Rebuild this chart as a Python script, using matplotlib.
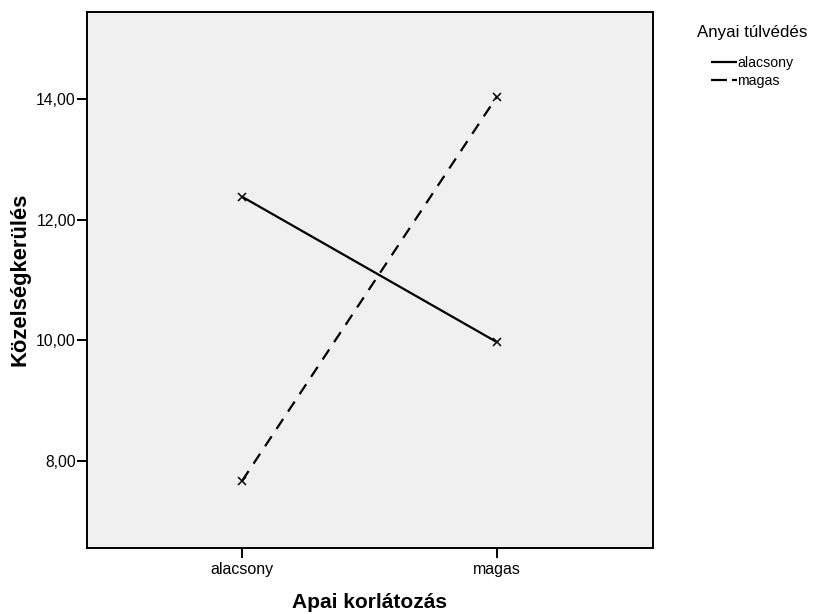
import matplotlib
matplotlib.use("Agg")
import matplotlib.pyplot as plt
from matplotlib.lines import Line2D

plt.rcParams['font.family'] = ['Liberation Sans', 'DejaVu Sans']
plt.rcParams['lines.scale_dashes'] = False

# Data
apai_levels = ["alacsony", "magas"]           # x categories (Apai korlátozás)
anyai_levels = ["alacsony", "magas"]          # series (Anyai túlvédés)
mean_alacsony = [12.38, 9.97]                 # Anyai túlvédés = alacsony
mean_magas = [7.67, 14.04]                    # Anyai túlvédés = magas
y_ticks = [8.0, 10.0, 12.0, 14.0]
y_ticklabels = ["8,00", "10,00", "12,00", "14,00"]

W, H = 819, 614
fig = plt.figure(figsize=(W / 100, H / 100), dpi=100)
ax = fig.add_axes([87 / W, 66 / H, (653 - 87) / W, (548 - 12) / H])
ax.set_facecolor("#f0f0f0")

x = list(range(len(apai_levels)))
dash_style = (0, (8.6, 6.4))
ax.plot(x, mean_alacsony, color="black", lw=1.6, marker="x", ms=6,
        mew=1.1, solid_capstyle="butt")
ax.plot(x, mean_magas, color="black", lw=1.6, marker="x", ms=6,
        mew=1.1, linestyle=dash_style, dash_capstyle="butt")

ax.set_xlim(-0.608, 1.612)
ax.set_ylim(6.56, 15.44)
ax.set_xticks(x)
ax.set_xticklabels(apai_levels, fontsize=11.5)
ax.set_yticks(y_ticks)
ax.set_yticklabels(y_ticklabels, fontsize=11.3)
ax.tick_params(axis="both", direction="out", length=7, width=1.4,
               color="black", pad=1)
ax.tick_params(axis="x", pad=3)

for sp in ax.spines.values():
    sp.set_linewidth(1.4)
    sp.set_color("black")

ax.set_xlabel("Apai korlátozás", fontsize=15, fontweight="bold", va="center")
ax.xaxis.set_label_coords(0.5, -0.102)
ax.set_ylabel("Közelségkerülés", fontsize=15.8, fontweight="bold", va="center")
ax.yaxis.set_label_coords(-0.118, 0.502)

# Legend: title as text, entries indented below it
fig.text(697 / W, 1 - 33 / H, "Anyai túlvédés", fontsize=12.2,
         ha="left", va="center")
handles = [
    Line2D([], [], color="black", lw=1.6, solid_capstyle="butt"),
    Line2D([], [], color="black", lw=1.6, linestyle=(0, (11.5, 3.6)),
           dash_capstyle="butt"),
]
fig.legend(handles, anyai_levels, loc="upper left",
           bbox_to_anchor=(711 / W, 1 - 56 / H),
           frameon=False, fontsize=10.2,
           handlelength=1.8, handletextpad=0.05, labelspacing=0.3,
           borderaxespad=0, borderpad=0)

fig.savefig("out.png", dpi=100)
